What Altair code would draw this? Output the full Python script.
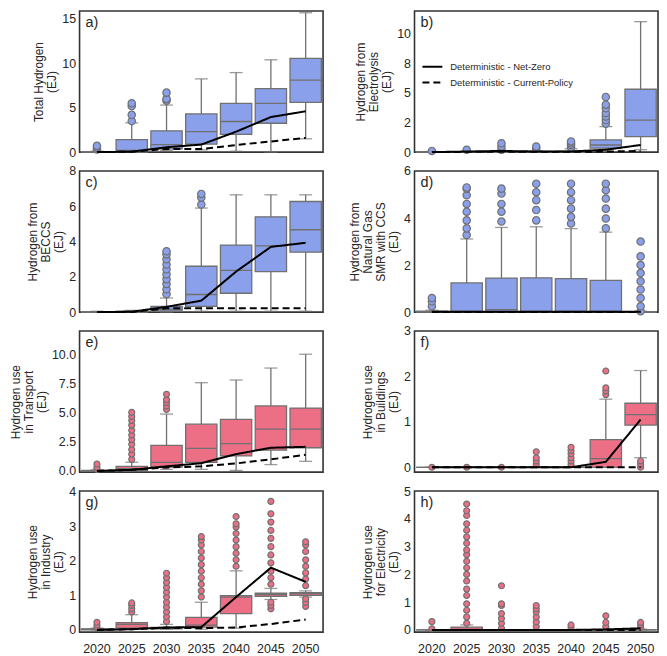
import altair as alt
import pandas as pd

YEARS = [2020, 2025, 2030, 2035, 2040, 2045, 2050]
SCEN = ["Deterministic - Net-Zero", "Deterministic - Current-Policy"]

# ---------- a) Total Hydrogen ----------
A_LO = [0.0, 0.0, 0.2, 0.25, 0.1, 0.0, 1.5]
A_Q1 = [0.0, 0.0, 0.37, 0.9, 2.0, 3.25, 5.6]
A_MED = [0.02, 0.2, 0.85, 2.3, 3.45, 5.5, 8.1]
A_Q3 = [0.05, 1.4, 2.4, 4.3, 5.5, 7.15, 10.55]
A_HI = [0.1, 3.3, 5.3, 8.25, 8.96, 10.4, 15.7]
A_OUT = [[0.3, 0.5, 0.7], [3.5, 4.2, 5.2, 5.5], [5.8, 6.0, 6.7], [], [], [], []]
A_NZ = [0.0, 0.05, 0.55, 0.85, 2.3, 3.95, 4.6]
A_CP = [0.0, 0.05, 0.35, 0.35, 0.8, 1.2, 1.6]

# ---------- b) Hydrogen from Electrolysis ----------
B_LO = [0.0, 0.0, 0.0, 0.0, 0.0, 0.05, 0.2]
B_Q1 = [0.0, 0.0, 0.0, 0.0, 0.0, 0.33, 1.3]
B_MED = [0.0, 0.0, 0.02, 0.02, 0.03, 0.6, 2.7]
B_Q3 = [0.02, 0.03, 0.05, 0.05, 0.08, 1.03, 5.3]
B_HI = [0.05, 0.08, 0.12, 0.12, 0.28, 2.15, 11.0]
B_OUT = [[0.1], [0.2], [0.2, 0.47, 0.75], [0.3, 0.47], [0.4, 0.6, 0.75, 0.9], [2.4, 2.7, 3.0, 3.3, 3.7, 4.0, 4.65], []]
B_NZ = [0.0, 0.05, 0.1, 0.05, 0.05, 0.2, 0.6]
B_CP = [0.0, 0.02, 0.02, 0.02, 0.02, 0.05, 0.1]

# ---------- c) Hydrogen from BECCS ----------
C_LO = [0.0, 0.0, 0.0, 0.05, 0.05, 0.05, 0.05]
C_Q1 = [0.0, 0.0, 0.05, 0.33, 1.07, 2.3, 3.4]
C_MED = [0.0, 0.02, 0.15, 1.0, 2.37, 3.75, 4.67]
C_Q3 = [0.02, 0.05, 0.33, 2.6, 3.8, 5.4, 6.27]
C_HI = [0.05, 0.1, 0.8, 5.9, 6.65, 6.65, 6.65]
C_OUT = [[], [], [1.03, 1.3, 1.6, 1.87, 2.15, 2.43, 2.7, 3.0, 3.27, 3.45], [6.1, 6.5, 6.7], [], [], []]
C_NZ = [0.0, 0.02, 0.3, 0.65, 2.3, 3.7, 3.93]
C_CP = [0.0, 0.0, 0.22, 0.22, 0.22, 0.22, 0.22]

# ---------- d) Hydrogen from Natural Gas SMR with CCS ----------
D_LO = [0.0, 0.0, 0.0, 0.0, 0.0, 0.0, 0.0]
D_Q1 = [0.0, 0.0, 0.0, 0.0, 0.0, 0.0, 0.0]
D_MED = [0.02, 0.03, 0.11, 0.03, 0.03, 0.03, 0.0]
D_Q3 = [0.04, 1.24, 1.45, 1.46, 1.42, 1.35, 0.02]
D_HI = [0.08, 3.11, 3.6, 3.63, 3.55, 3.4, 0.04]
D_OUT = [[0.25, 0.46, 0.6],
         [3.28, 3.56, 3.9, 4.27, 4.6, 4.97, 5.25, 5.3],
         [3.85, 4.27, 4.6, 5.04, 5.25],
         [3.9, 4.34, 4.76, 5.1, 5.46],
         [3.77, 4.05, 4.4, 4.76, 5.1, 5.46],
         [3.56, 3.98, 4.4, 4.83, 5.18, 5.46],
         [0.04, 0.25, 0.6, 0.96, 1.31, 1.66, 2.0, 2.37, 3.0]]
D_NZ = [0.02, 0.02, 0.02, 0.02, 0.02, 0.02, 0.02]
D_CP = [0.01, 0.01, 0.01, 0.01, 0.01, 0.01, 0.01]

# ---------- e) Hydrogen use in Transport ----------
E_LO = [0.0, 0.05, 0.14, 0.14, 0.05, 0.55, 0.83]
E_Q1 = [0.0, 0.05, 0.33, 0.75, 1.3, 1.8, 2.0]
E_MED = [0.02, 0.2, 0.75, 1.95, 2.36, 3.6, 3.6]
E_Q3 = [0.05, 0.39, 2.2, 4.03, 4.45, 5.6, 5.42]
E_HI = [0.1, 0.75, 4.9, 7.6, 7.83, 8.86, 10.05]
E_OUT = [[0.14, 0.33, 0.6],
         [1.0, 1.45, 1.85, 2.3, 2.7, 3.1, 3.5, 3.95, 4.35, 4.7, 5.05],
         [5.3, 5.6, 5.9, 6.15, 6.6], [], [], [], []]
E_NZ = [0.0, 0.1, 0.4, 0.67, 1.45, 2.0, 2.08]
E_CP = [0.0, 0.1, 0.3, 0.4, 0.65, 1.0, 1.4]

# ---------- f) Hydrogen use in Buildings ----------
F_LO = [0.0, 0.0, 0.0, 0.0, 0.0, 0.0, 0.21]
F_Q1 = [0.0, 0.0, 0.0, 0.0, 0.0, 0.0, 0.93]
F_MED = [0.0, 0.0, 0.0, 0.0, 0.0, 0.19, 1.16]
F_Q3 = [0.0, 0.0, 0.0, 0.0, 0.0, 0.61, 1.41]
F_HI = [0.0, 0.0, 0.0, 0.0, 0.0, 1.5, 2.13]
F_OUT = [[0.0], [0.0], [0.0], [0.06, 0.14, 0.21, 0.34],
         [0.06, 0.14, 0.21, 0.3, 0.37, 0.44],
         [1.6, 1.68, 1.75, 2.12], [0.0, 0.07, 0.14]]
F_NZ = [0.0, 0.0, 0.0, 0.0, 0.0, 0.12, 1.05]
F_CP = [0.0, 0.0, 0.0, 0.0, 0.0, 0.0, 0.0]

# ---------- g) Hydrogen use in Industry ----------
G_LO = [0.0, 0.02, 0.02, 0.02, 0.05, 0.88, 0.95]
G_Q1 = [0.0, 0.05, 0.03, 0.08, 0.47, 0.97, 1.0]
G_MED = [0.02, 0.16, 0.05, 0.14, 0.95, 1.02, 1.05]
G_Q3 = [0.03, 0.21, 0.07, 0.36, 0.99, 1.06, 1.08]
G_HI = [0.05, 0.44, 0.16, 0.8, 1.71, 1.2, 1.13]
G_OUT = [[0.07, 0.14, 0.22],
         [0.52, 0.61, 0.71, 0.78],
         [0.24, 0.38, 0.52, 0.66, 0.8, 0.95, 1.09, 1.23, 1.37, 1.51, 1.64],
         [0.95, 1.13, 1.32, 1.51, 1.7, 1.89, 2.08, 2.27, 2.46, 2.6, 2.7],
         [1.84, 2.03, 2.22, 2.41, 2.6, 2.79, 2.98, 3.07, 3.28],
         [0.61, 0.71, 0.8, 1.32, 1.51, 1.7, 1.94, 2.17, 2.41, 2.65, 2.88, 3.12, 3.36, 3.72],
         [0.68, 0.8, 0.9, 1.28, 1.47, 1.65, 1.84, 2.03, 2.27, 2.46, 2.55]]
G_NZ = [0.0, 0.02, 0.07, 0.08, 0.95, 1.8, 1.39]
G_CP = [0.0, 0.02, 0.06, 0.05, 0.07, 0.17, 0.3]

# ---------- h) Hydrogen use for Electricity ----------
H_LO = [0.0, 0.0, 0.0, 0.0, 0.0, 0.0, 0.0]
H_Q1 = [0.0, 0.0, 0.0, 0.0, 0.0, 0.0, 0.0]
H_MED = [0.0, 0.02, 0.0, 0.0, 0.0, 0.0, 0.0]
H_Q3 = [0.0, 0.1, 0.0, 0.0, 0.0, 0.0, 0.01]
H_HI = [0.0, 0.18, 0.0, 0.0, 0.0, 0.0, 0.03]
H_OUT = [[0.04, 0.3],
         [0.24, 0.47, 0.71, 0.94, 1.24, 1.47, 1.76, 2.0, 2.24, 2.47, 2.71, 2.88, 3.12, 3.35, 3.59, 3.82, 4.12, 4.29, 4.53],
         [0.06, 0.24, 0.41, 0.59, 0.88, 0.94, 1.59],
         [0.12, 0.29, 0.47, 0.65, 0.76, 0.88],
         [0.09, 0.18],
         [0.12, 0.27, 0.51],
         [0.08, 0.18, 0.27]]
H_NZ = [0.0, 0.0, 0.0, 0.0, 0.0, 0.02, 0.06]
H_CP = [0.0, 0.0, 0.0, 0.0, 0.0, 0.0, 0.0]

# ---------- axes ----------
TITLES = {
    "a": ["Total Hydrogen", "(EJ)"],
    "b": ["Hydrogen from", "Electrolysis", "(EJ)"],
    "c": ["Hydrogen from", "BECCS", "(EJ)"],
    "d": ["Hydrogen from", "Natural Gas", "SMR with CCS", "(EJ)"],
    "e": ["Hydrogen use", "in Transport", "(EJ)"],
    "f": ["Hydrogen use", "in Buildings", "(EJ)"],
    "g": ["Hydrogen use", "in Industry", "(EJ)"],
    "h": ["Hydrogen use", "for Electricity", "(EJ)"],
}
TICKS = {
    "a": [0, 5, 10, 15], "b": [0, 2.5, 5, 7.5, 10], "c": [0, 2, 4, 6, 8],
    "d": [0, 2, 4, 6], "e": [0, 2.5, 5, 7.5, 10], "f": [0, 1, 2, 3],
    "g": [0, 1, 2, 3, 4], "h": [0, 1, 2, 3, 4, 5],
}
TICK_LABELS = {
    "a": ["0", "5", "10", "15"], "b": ["0", "2", "5", "8", "10"],
    "c": ["0", "2", "4", "6", "8"], "d": ["0", "2", "4", "6"],
    "e": ["0.0", "2.5", "5.0", "7.5", "10.0"], "f": ["0", "1", "2", "3"],
    "g": ["0", "1", "2", "3", "4"], "h": ["0", "1", "2", "3", "4", "5"],
}
DOMAINS = {
    "a": [0, 15.9], "b": [0, 11.9], "c": [0, 8.0], "d": [0, 6.0],
    "e": [-0.1, 12.05], "f": [-0.107, 3.0], "g": [-0.066, 4.02], "h": [-0.08, 5.0],
}

BLUE = "#8ba0ea"
PINK = "#ec6f86"
EDGE = "#707070"

W, H = 245, 142


def label_expr(vals, labs):
    expr = "''"
    for v, l in reversed(list(zip(vals, labs))):
        expr = f"abs(datum.value - {v}) < 1e-6 ? '{l}' : ({expr})"
    return expr


def panel(key, lo, q1, med, q3, hi, out, nz, cp, color, bottom, osize):
    stats = pd.DataFrame({"year": YEARS, "lo": lo, "q1": q1, "med": med, "q3": q3, "hi": hi})
    outs = pd.DataFrame([{"year": y, "v": v} for y, vs in zip(YEARS, out) for v in vs])
    lines = pd.DataFrame(
        [{"year": y, "v": v, "scenario": SCEN[0]} for y, v in zip(YEARS, nz)]
        + [{"year": y, "v": v, "scenario": SCEN[1]} for y, v in zip(YEARS, cp)]
    )
    if bottom:
        xaxis = alt.Axis(title=None, labelAngle=0, labelPadding=10, ticks=False, domain=False)
    else:
        xaxis = None
    x = alt.X("year:O", axis=xaxis,
              scale=alt.Scale(domain=YEARS, paddingInner=0.1, paddingOuter=0.05))
    ysc = alt.Scale(domain=DOMAINS[key], nice=False, zero=False)
    yaxis = alt.Axis(title=TITLES[key], values=TICKS[key], labelOverlap=False,
                     labelBound=False, labelFlush=False, titleLineHeight=13,
                     labelExpr=label_expr(TICKS[key], TICK_LABELS[key]))

    def Y(f):
        return alt.Y(f, type="quantitative", scale=ysc, axis=yaxis)

    base = alt.Chart(stats)
    whisk = base.mark_rule(color=EDGE, strokeWidth=1.3).encode(
        x=x, y=Y("lo"), y2="hi:Q")
    caps_hi = base.mark_tick(color=EDGE, thickness=1.3, size=13, orient="horizontal").encode(
        x=x, y=Y("hi"))
    caps_lo = base.mark_tick(color=EDGE, thickness=1.3, size=13, orient="horizontal").encode(
        x=x, y=Y("lo"))
    box = base.mark_bar(fill=color, stroke=EDGE, strokeWidth=1.3).encode(
        x=x, y=Y("q1"), y2="q3:Q")
    medl = base.mark_bar(fill=color, stroke=EDGE, strokeWidth=1.3).encode(
        x=x, y=Y("med"), y2="med:Q")
    pts = alt.Chart(outs).mark_point(filled=False, shape="circle", fill=color,
                                     stroke=EDGE, strokeWidth=1.2, size=osize, opacity=1).encode(
        x=x, y=Y("v"))
    ln = alt.Chart(lines).mark_line(color="black", strokeWidth=2).encode(
        x=x, y=Y("v"),
        strokeDash=alt.StrokeDash(
            "scenario:N",
            scale=alt.Scale(domain=SCEN, range=[[1, 0], [7, 4]]),
            sort=SCEN,
            legend=alt.Legend(orient="none", legendX=344, legendY=45, title=None,
                              symbolType="stroke", symbolSize=400, symbolStrokeWidth=2,
                              symbolStrokeColor="black", labelFontSize=9.5,
                              labelFont="Liberation Sans", labelColor="#262626",
                              rowPadding=-6, labelOffset=7)))
    lab = alt.Chart(pd.DataFrame({"t": [key + ")"]})).mark_text(
        align="left", baseline="top", fontSize=14.5, font="Liberation Sans",
        color="#262626").encode(x=alt.value(6), y=alt.value(5), text="t:N")
    return alt.layer(whisk, caps_hi, caps_lo, box, medl, pts, ln, lab).properties(width=W, height=H)


pa = panel("a", A_LO, A_Q1, A_MED, A_Q3, A_HI, A_OUT, A_NZ, A_CP, BLUE, False, 55)
pb = panel("b", B_LO, B_Q1, B_MED, B_Q3, B_HI, B_OUT, B_NZ, B_CP, BLUE, False, 55)
pc = panel("c", C_LO, C_Q1, C_MED, C_Q3, C_HI, C_OUT, C_NZ, C_CP, BLUE, False, 55)
pd_ = panel("d", D_LO, D_Q1, D_MED, D_Q3, D_HI, D_OUT, D_NZ, D_CP, BLUE, False, 55)
pe = panel("e", E_LO, E_Q1, E_MED, E_Q3, E_HI, E_OUT, E_NZ, E_CP, PINK, False, 36)
pf = panel("f", F_LO, F_Q1, F_MED, F_Q3, F_HI, F_OUT, F_NZ, F_CP, PINK, False, 36)
pg = panel("g", G_LO, G_Q1, G_MED, G_Q3, G_HI, G_OUT, G_NZ, G_CP, PINK, True, 36)
ph = panel("h", H_LO, H_Q1, H_MED, H_Q3, H_HI, H_OUT, H_NZ, H_CP, PINK, True, 36)

chart = alt.concat(pa, pb, pc, pd_, pe, pf, pg, ph, columns=2, bounds="flush",
                   spacing={"row": 19, "column": 92}).resolve_scale(
    strokeDash="shared").resolve_legend(strokeDash="shared").properties(
    padding=0, background="white"
).configure_view(
    stroke="#333333", strokeWidth=1.6
).configure_axis(
    grid=False, ticks=False, domain=False, labelFont="Liberation Sans",
    titleFont="Liberation Sans", labelFontSize=12.5, titleFontSize=12,
    titleFontWeight="normal", labelColor="#262626", titleColor="#262626",
    labelPadding=4, titlePadding=3, labelOverlap=False
)

chart.save("out.html", embed_options={"renderer": "svg", "actions": False})
